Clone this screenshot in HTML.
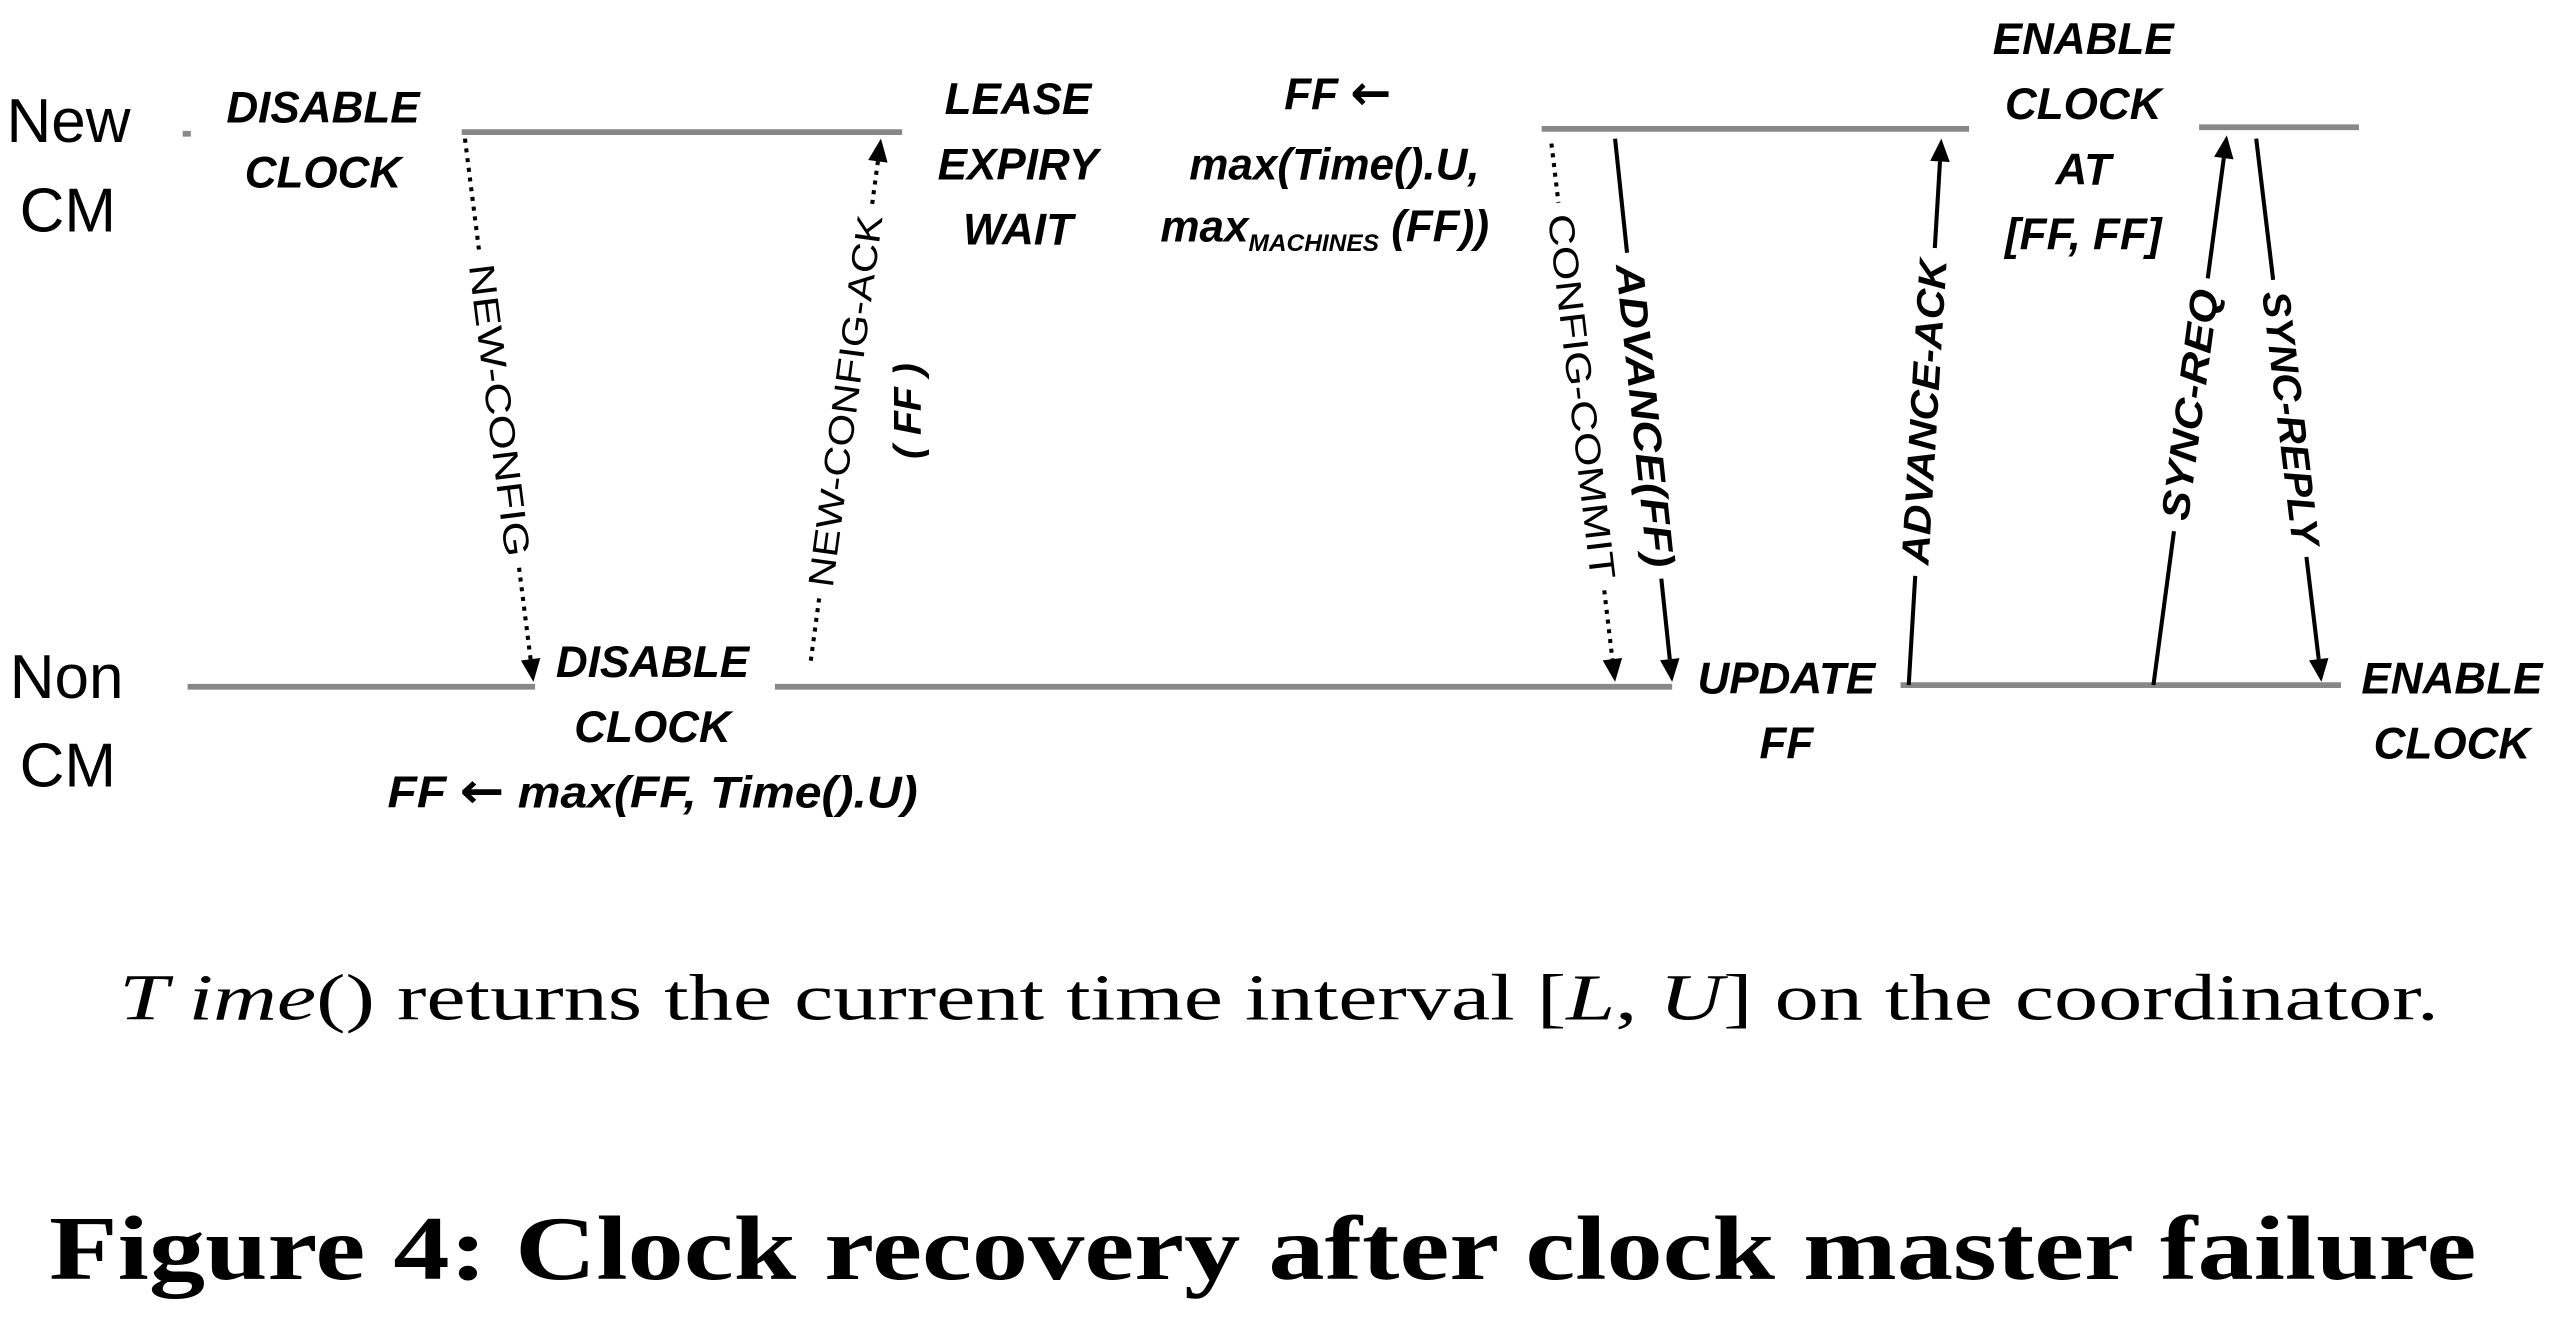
<!DOCTYPE html>
<html><head><meta charset="utf-8"><style>
html,body{margin:0;padding:0;background:#fff;}
svg{display:block;}
.lbl{font-family:"Liberation Sans Narrow","Liberation Sans",sans-serif;font-weight:bold;font-style:italic;font-size:27px;fill:#000;}
.reg{font-family:"Liberation Sans",sans-serif;font-size:38px;fill:#000;}
.msg{font-family:"Liberation Sans",sans-serif;font-size:22px;fill:#000;}
.msgb{font-family:"Liberation Sans Narrow","Liberation Sans",sans-serif;font-weight:bold;font-style:italic;font-size:24px;fill:#000;}
.arr{font-family:"DejaVu Sans",sans-serif;font-style:normal;font-weight:bold;font-size:30px;}
</style></head><body>
<svg id="fig" width="2558" height="1330" viewBox="0 0 1568 815.3" preserveAspectRatio="none" xmlns="http://www.w3.org/2000/svg">
<g stroke="#888" stroke-width="3.5">
<line x1="112" y1="82" x2="117" y2="82"/>
<line x1="283" y1="81" x2="553" y2="81"/>
<line x1="945" y1="79" x2="1207" y2="79"/>
<line x1="1348" y1="78" x2="1446" y2="78"/>
<line x1="115" y1="421" x2="328" y2="421"/>
<line x1="475" y1="421" x2="1025" y2="421"/>
<line x1="1165" y1="420" x2="1435" y2="420"/>
</g>
<text class="reg" x="4" y="87">New</text>
<text class="reg" x="12" y="142">CM</text>
<text class="reg" x="6" y="428">Non</text>
<text class="reg" x="12" y="482">CM</text>
<g text-anchor="middle">
<text class="lbl" x="198" y="75">DISABLE</text>
<text class="lbl" x="198" y="115">CLOCK</text>
<text class="lbl" x="624" y="70">LEASE</text>
<text class="lbl" x="624" y="110">EXPIRY</text>
<text class="lbl" x="624" y="150">WAIT</text>
<text class="lbl" x="820" y="67">FF <tspan class="arr">←</tspan></text>
<text class="lbl" x="818" y="110">max(Time().U,</text>
<text class="lbl" x="812" y="148">max<tspan font-size="15" dy="6">MACHINES</tspan><tspan dy="-6"> (FF))</tspan></text>
<text class="lbl" x="1277" y="33">ENABLE</text>
<text class="lbl" x="1277" y="73">CLOCK</text>
<text class="lbl" x="1277" y="113">AT</text>
<text class="lbl" x="1277" y="153">[FF, FF]</text>
<text class="lbl" x="400" y="415">DISABLE</text>
<text class="lbl" x="400" y="455">CLOCK</text>
<text class="lbl" x="400" y="495" textLength="325" lengthAdjust="spacingAndGlyphs">FF <tspan class="arr">←</tspan> max(FF, Time().U)</text>
<text class="lbl" x="1095" y="425">UPDATE</text>
<text class="lbl" x="1095" y="465">FF</text>
<text class="lbl" x="1503" y="425">ENABLE</text>
<text class="lbl" x="1503" y="465">CLOCK</text>
</g>
<text class="msgb" transform="translate(557,252) rotate(-90)" text-anchor="middle" dominant-baseline="central">( FF )</text>
<g id="arrows"></g>
<text x="784" y="625" text-anchor="middle" font-family="Liberation Serif, serif" font-size="40" textLength="1422" lengthAdjust="spacingAndGlyphs"><tspan font-style="italic">T ime</tspan>() returns the current time interval [<tspan font-style="italic">L</tspan>, <tspan font-style="italic">U</tspan>] on the coordinator.</text>
<text x="774" y="784" text-anchor="middle" font-family="Liberation Serif, serif" font-weight="bold" font-size="56" textLength="1488" lengthAdjust="spacingAndGlyphs">Figure 4: Clock recovery after clock master failure</text>
</svg>
<script>
const msgNames = ["NEW-CONFIG","NEW-CONFIG-ACK","CONFIG-COMMIT","ADVANCE(FF)","ADVANCE-ACK","SYNC-REQ","SYNC-REPLY"];
const msgStart = [[285,85],[497,405],[951,88],[990,85],[1170,420],[1320,420],[1383,85]];
const msgEnd = [[327,418],[540,85],[990,418],[1025,418],[1190,85],[1365,83],[1423,418]];
const msgGap = [[0.21,0.79],[0.12,0.875],[0.11,0.83],[0.21,0.81],[0.2,0.8],[0.28,0.74],[0.26,0.77]];
const msgDotted = [true,true,true,false,false,false,false];
const msgBold = [false,false,false,true,true,true,true];
const NS="http://www.w3.org/2000/svg";
const g=document.getElementById('arrows');
function mk(t,a){const e=document.createElementNS(NS,t);for(const k in a)e.setAttribute(k,a[k]);return e;}
msgNames.forEach((name,i)=>{
  const [x0,y0]=msgStart[i],[x1,y1]=msgEnd[i];
  const dx=x1-x0,dy=y1-y0,L=Math.hypot(dx,dy),ux=dx/L,uy=dy/L;
  const [t0,t1]=msgGap[i];
  const grp=mk('g',{});
  
  
  const style={stroke:'#000','stroke-width':2.5};
  if(msgDotted[i]) style['stroke-dasharray']='2.5,3.5';
  const hl=14;
  const ex=x1-ux*hl, ey=y1-uy*hl;
  const l1=mk('line',Object.assign({x1:x0,y1:y0,x2:x0+dx*t0,y2:y0+dy*t0},style));
  
  
  const l2=mk('line',Object.assign({x1:x0+dx*t1,y1:y0+dy*t1,x2:ex,y2:ey},style));
  
  
  const px=-uy,py=ux,w=6;
  const head=mk('polygon',{points:`${x1},${y1} ${ex+px*w},${ey+py*w} ${ex-px*w},${ey-py*w}`,fill:'#000'});
  
  
  const tm=(t0+t1)/2, tx=x0+dx*tm, ty=y0+dy*tm;
  const ang=Math.atan2(dy,dx)*180/Math.PI;
  const txt=mk('text',{class:msgBold[i]?'msgb':'msg',transform:`translate(${tx},${ty}) rotate(${ang})`,'text-anchor':'middle','dominant-baseline':'central',textLength:(L*(t1-t0)-14).toFixed(1),lengthAdjust:'spacingAndGlyphs'});
  txt.textContent=name;
  
  
  grp.append(l1,l2,head,txt);
  g.appendChild(grp);
});
</script>
</body></html>
